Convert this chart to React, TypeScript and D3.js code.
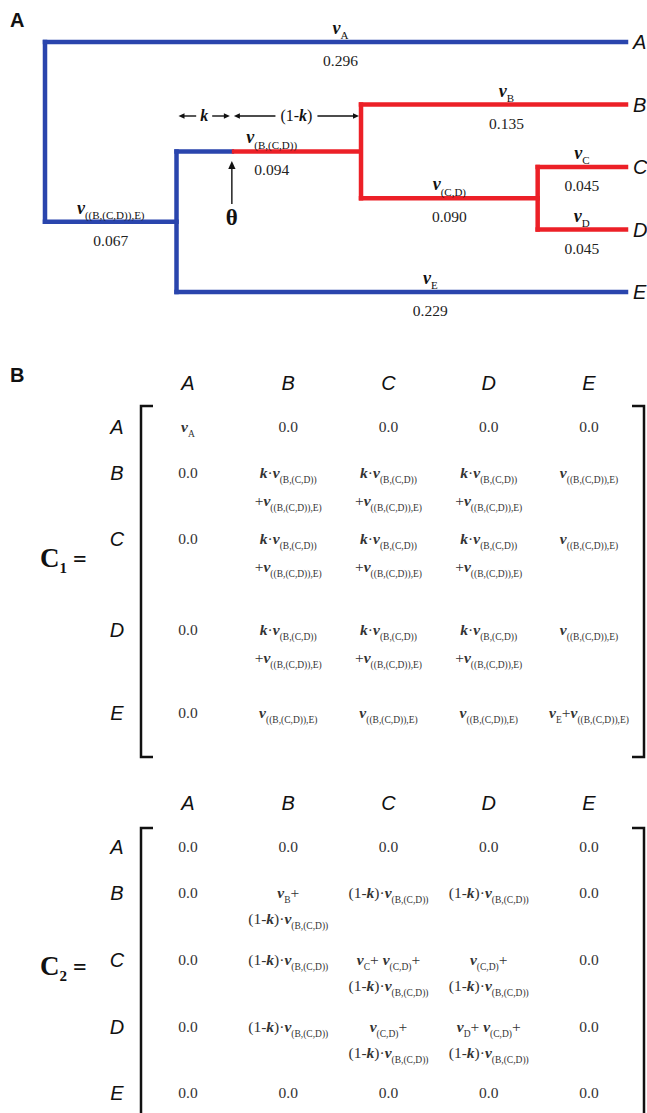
import * as d3 from 'd3'

// tree: node ids, parents, branch lengths and branch names
const NODE_IDS = ['root', 'BCDE', 'A', 'BCD', 'E', 'B', 'CD', 'C', 'D']
const NODE_PARENTS = [null, 'root', 'root', 'BCDE', 'BCDE', 'BCD', 'BCD', 'CD', 'CD']
const BRANCH_LENGTHS = [0, 0.067, 0.296, 0.094, 0.229, 0.135, 0.09, 0.045, 0.045]
const BRANCH_NAMES = [
  '',
  'v_{((B,(C,D)),E)}',
  'v_{A}',
  'v_{(B,(C,D))}',
  'v_{E}',
  'v_{B}',
  'v_{(C,D)}',
  'v_{C}',
  'v_{D}',
]
const TIPS = ['A', 'B', 'C', 'D', 'E']
const K_FRACTION = 0.3
const SPLIT_NODE = 'BCD'

// matrices
const MATRIX_COLS = ['A', 'B', 'C', 'D', 'E']
const KV = 'k·v_{(B,(C,D))}'
const PV = '+v_{((B,(C,D)),E)}'
const VE = 'v_{((B,(C,D)),E)}'
const C1_CELLS = [
  [['v_{A}'], ['0.0'], ['0.0'], ['0.0'], ['0.0']],
  [['0.0'], [KV, PV], [KV, PV], [KV, PV], [VE]],
  [['0.0'], [KV, PV], [KV, PV], [KV, PV], [VE]],
  [['0.0'], [KV, PV], [KV, PV], [KV, PV], [VE]],
  [['0.0'], [VE], [VE], [VE], ['v_{E}+v_{((B,(C,D)),E)}']],
]
const OK = '(1-k)·v_{(B,(C,D))}'
const C2_CELLS = [
  [['0.0'], ['0.0'], ['0.0'], ['0.0'], ['0.0']],
  [['0.0'], ['v_{B}+', OK], [OK], [OK], ['0.0']],
  [['0.0'], [OK], ['v_{C}+ v_{(C,D)}+', OK], ['v_{(C,D)}+', OK], ['0.0']],
  [['0.0'], [OK], ['v_{(C,D)}+', OK], ['v_{D}+ v_{(C,D)}+', OK], ['0.0']],
  [['0.0'], ['0.0'], ['0.0'], ['0.0'], ['0.0']],
]

const SERIF = "'Liberation Serif', 'Times New Roman', serif"
const SANS = "'Liberation Sans', Arial, sans-serif"
const BLUE = '#2a45ad'
const RED = '#ec2027'

type Tok = { t: string; sub?: boolean; ital?: boolean }

function parse(s: string): Tok[] {
  const out: Tok[] = []
  let buf = ''
  let i = 0
  while (i < s.length) {
    if (s.startsWith('_{', i)) {
      if (buf) out.push({ t: buf }), (buf = '')
      const end = s.indexOf('}', i)
      out.push({ t: s.slice(i + 2, end), sub: true })
      i = end + 1
    } else if (s[i] === 'v' || s[i] === 'k') {
      if (buf) out.push({ t: buf }), (buf = '')
      out.push({ t: s[i], ital: true })
      i++
    } else {
      buf += s[i]
      i++
    }
  }
  if (buf) out.push({ t: buf })
  return out
}

function Rich({ x, y, s, size, subSize, fill = '#111' }: any) {
  const toks = parse(s)
  const shift = size * 0.3
  let shifted = false
  return (
    <text x={x} y={y} textAnchor='middle' fontFamily={SERIF} fontSize={size} fill={fill}>
      {toks.map((t, i) => {
        if (t.sub) {
          const el = (
            <tspan key={i} fontSize={subSize} dy={shifted ? 0 : shift}>
              {t.t}
            </tspan>
          )
          shifted = true
          return el
        }
        const dy = shifted ? -shift : 0
        shifted = false
        return (
          <tspan
            key={i}
            dy={dy}
            fontStyle={t.ital ? 'italic' : 'normal'}
            fontWeight={t.ital ? 'bold' : 'normal'}
          >
            {t.t}
          </tspan>
        )
      })}
    </text>
  )
}

function Arrow({ x1, y1, x2, y2, head = 6 }: any) {
  const a = Math.atan2(y2 - y1, x2 - x1)
  const p1 = [x2 - head * Math.cos(a) + (head / 2.2) * Math.sin(a), y2 - head * Math.sin(a) - (head / 2.2) * Math.cos(a)]
  const p2 = [x2 - head * Math.cos(a) - (head / 2.2) * Math.sin(a), y2 - head * Math.sin(a) + (head / 2.2) * Math.cos(a)]
  return (
    <g>
      <line x1={x1} y1={y1} x2={x2 - (head - 1) * Math.cos(a)} y2={y2 - (head - 1) * Math.sin(a)} stroke='#111' strokeWidth={1.4} />
      <path d={`M${x2},${y2}L${p1[0]},${p1[1]}L${p2[0]},${p2[1]}Z`} fill='#111' />
    </g>
  )
}

function Matrix({ cells, headerY, rowYs, lineGap, top, bottom, label, labelY }: any) {
  const colX = d3.scalePoint().domain(MATRIX_COLS).range([188, 589])
  const leftX = 141
  const rightX = 644
  return (
    <g>
      {MATRIX_COLS.map((c) => (
        <text key={c} x={colX(c)} y={headerY + 7} textAnchor='middle' fontFamily={SANS} fontStyle='italic' fontSize={20} fill='#111'>
          {c}
        </text>
      ))}
      {MATRIX_COLS.map((c, r) => (
        <text key={'r' + c} x={117} y={rowYs[r] + 7} textAnchor='middle' fontFamily={SANS} fontStyle='italic' fontSize={20} fill='#111'>
          {c}
        </text>
      ))}
      <path d={`M${leftX + 12},${top}H${leftX}V${bottom}H${leftX + 12}`} fill='none' stroke='#111' strokeWidth={2.5} />
      <path d={`M${rightX - 12},${top}H${rightX}V${bottom}H${rightX - 12}`} fill='none' stroke='#111' strokeWidth={2.5} />
      {cells.map((row: string[][], r: number) =>
        row.map((lines, c) =>
          lines.map((s, li) => (
            <Rich key={`${r}-${c}-${li}`} x={colX(MATRIX_COLS[c])} y={rowYs[r] + 5 + li * lineGap} s={s} size={15.5} subSize={9.5} fill='#333' />
          ))
        )
      )}
      <text x={40} y={labelY + 9} fontFamily={SERIF} fontWeight='bold' fontSize={27} fill='#111'>
        C
        <tspan fontSize={15} dy={6}>{label}</tspan>
        <tspan fontSize={24} dy={-6}> =</tspan>
      </text>
    </g>
  )
}

export default function App() {
  const width = 647
  const height = 1113

  // small label nudges (px) matching the figure's hand placement
  const labelNudge: Record<string, number> = { A: 5, B: 13, E: 29, BCD: 3 }

  const table = NODE_IDS.map((id, i) => ({ id, parent: NODE_PARENTS[i], len: BRANCH_LENGTHS[i], name: BRANCH_NAMES[i] }))
  const root: any = d3
    .stratify<any>()
    .id((d) => d.id)
    .parentId((d) => d.parent)(table)
  root.eachBefore((n: any) => (n.cum = (n.parent ? n.parent.cum : 0) + n.data.len))

  const xScale = d3
    .scaleLinear()
    .domain([0, d3.max(root.leaves(), (n: any) => n.cum) as number])
    .range([45, 626])
  const yScale = d3.scalePoint().domain(TIPS).range([42, 292])
  root.eachAfter((n: any) => {
    n.py = n.children ? d3.mean(n.children, (c: any) => c.py) : yScale(n.id)
  })

  const split = root.find((n: any) => n.id === SPLIT_NODE)
  const inRed = (n: any) => n.ancestors().includes(split) && n !== split
  const thetaX = xScale(split.parent.cum + K_FRACTION * split.data.len)
  const splitX0 = xScale(split.parent.cum)
  const splitX1 = xScale(split.cum)

  const nodes = root.descendants().filter((n: any) => n.parent)
  const sw = 4.5

  // k annotation
  const annY = 116
  const segs = [
    { a: splitX0, b: thetaX, label: 'k', w: 8 },
    { a: thetaX, b: splitX1, label: '(1-k)', w: 34 },
  ]

  return (
    <svg width={width} height={height} style={{ position: 'absolute', left: 0, top: 0, background: '#fff' }}>
      <text x={10} y={27} fontFamily={SANS} fontWeight='bold' fontSize={20} fill='#111'>A</text>

      {/* vertical connectors */}
      {root.descendants().filter((n: any) => n.children).map((n: any) => {
        const ys = n.children.map((c: any) => c.py)
        const red = n === split || inRed(n)
        return (
          <line key={'v' + n.id} x1={xScale(n.cum)} x2={xScale(n.cum)} y1={d3.min(ys)} y2={d3.max(ys)} stroke={red ? RED : BLUE} strokeWidth={sw} strokeLinecap='square' />
        )
      })}

      {/* branches */}
      {nodes.map((n: any) => {
        const x0 = xScale(n.parent.cum)
        const x1 = xScale(n.cum)
        if (n === split) {
          return (
            <g key={'h' + n.id}>
              <line x1={x0} x2={thetaX} y1={n.py} y2={n.py} stroke={BLUE} strokeWidth={sw} strokeLinecap='square' />
              <line x1={thetaX} x2={x1} y1={n.py} y2={n.py} stroke={RED} strokeWidth={sw} />
            </g>
          )
        }
        return (
          <line key={'h' + n.id} x1={x0} x2={x1} y1={n.py} y2={n.py} stroke={inRed(n) ? RED : BLUE} strokeWidth={sw} strokeLinecap='square' />
        )
      })}

      {/* branch labels */}
      {nodes.map((n: any) => {
        const cx = (xScale(n.parent.cum) + xScale(n.cum)) / 2 + (labelNudge[n.id] || 0)
        return (
          <g key={'l' + n.id}>
            <Rich x={cx} y={n.py - 8} s={n.data.name} size={18} subSize={11} />
            <text x={cx} y={n.py + 24} textAnchor='middle' fontFamily={SERIF} fontSize={15.5} fill='#222'>
              {d3.format('.3f')(n.data.len)}
            </text>
          </g>
        )
      })}

      {/* tip labels */}
      {root.leaves().map((n: any) => (
        <text key={'t' + n.id} x={xScale(n.cum) + 7} y={n.py + 7} fontFamily={SANS} fontStyle='italic' fontSize={20} fill='#111'>
          {n.id}
        </text>
      ))}

      {/* k / (1-k) annotation */}
      {segs.map((s, i) => {
        const mid = (s.a + s.b) / 2
        return (
          <g key={'s' + i}>
            <Arrow x1={mid - s.w / 2 - 4} y1={annY} x2={s.a + 2} y2={annY} />
            <Arrow x1={mid + s.w / 2 + 4} y1={annY} x2={s.b - 2} y2={annY} />
            <Rich x={mid} y={annY + 5} s={s.label} size={16} subSize={10} />
          </g>
        )
      })}

      {/* theta */}
      <Arrow x1={thetaX} y1={204} x2={thetaX} y2={161} head={8} />
      <text x={thetaX} y={225} textAnchor='middle' fontFamily={SERIF} fontWeight='bold' fontSize={23} fill='#111'>θ</text>

      <text x={10} y={382} fontFamily={SANS} fontWeight='bold' fontSize={20} fill='#111'>B</text>

      <Matrix cells={C1_CELLS} headerY={383} rowYs={[427, 473, 539, 630, 713]} lineGap={28} top={406} bottom={757} label='1' labelY={558} />
      <Matrix cells={C2_CELLS} headerY={803} rowYs={[847, 893, 960, 1027, 1093]} lineGap={26} top={828} bottom={1140} label='2' labelY={966} />
    </svg>
  )
}
